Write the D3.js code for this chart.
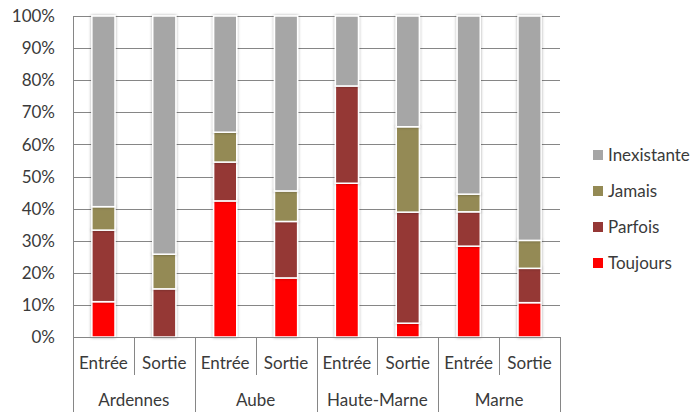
<!DOCTYPE html>
<html>
<head>
<meta charset="utf-8">
<script src="https://cdn.jsdelivr.net/npm/d3@7"></script>
<style>
  body { margin: 0; background: #fff; }
  svg text { font-family: Lato, "Open Sans", sans-serif; fill: #3a3a3a; }
</style>
</head>
<body>
<svg id="chart" width="698" height="412"></svg>
<script>
// data (percent of each bar)
const groups = ['Ardennes', 'Aube', 'Haute-Marne', 'Marne'];
const subCats = ['Entrée', 'Sortie'];
const seriesNames = ['Toujours', 'Parfois', 'Jamais', 'Inexistante'];
const toujours    = [11.0, 0.0, 42.4, 18.4, 47.9, 4.3, 28.3, 10.7];
const parfois     = [22.3, 15.0, 12.1, 17.6, 30.3, 34.6, 10.7, 10.7];
const jamais      = [7.3, 10.8, 9.3, 9.5, 0.0, 26.6, 5.5, 8.7];
const inexistante = [59.4, 74.2, 36.2, 54.5, 21.8, 34.5, 55.5, 69.9];
const yTicks = [0, 10, 20, 30, 40, 50, 60, 70, 80, 90, 100];
const colors = ['#ff0000', '#953735', '#948a54', '#a6a6a6'];

const svg = d3.select('#chart');
const plotL = 73, plotR = 560, plotT = 16, plotB = 337;
const fontSize = 17;

// build rows for stacking
const rows = [];
groups.forEach((g, gi) => {
  subCats.forEach((s, si) => {
    const i = gi * 2 + si;
    rows.push({
      key: g + '|' + s, group: g, sub: s,
      Toujours: toujours[i], Parfois: parfois[i], Jamais: jamais[i], Inexistante: inexistante[i]
    });
  });
});

const x = d3.scaleBand().domain(rows.map(d => d.key)).range([plotL, plotR]);
const y = d3.scaleLinear().domain([0, 100]).range([plotB, plotT]);
const barW = x.bandwidth() * 0.38;

// soft shadow around bars
const defs = svg.append('defs');
const filt = defs.append('filter').attr('id', 'shadow')
  .attr('x', '-50%').attr('y', '-10%').attr('width', '200%').attr('height', '120%');
filt.append('feDropShadow').attr('dx', 0).attr('dy', 0)
  .attr('stdDeviation', 1.6).attr('flood-color', '#000').attr('flood-opacity', 0.35);

// gridlines
svg.append('g').selectAll('line')
  .data(yTicks.filter(t => t > 0))
  .enter().append('line')
  .attr('x1', plotL).attr('x2', plotR)
  .attr('y1', d => Math.round(y(d)) + 0.5).attr('y2', d => Math.round(y(d)) + 0.5)
  .attr('stroke', '#868686').attr('stroke-width', 1);

// y labels
svg.append('g').selectAll('text')
  .data(yTicks)
  .enter().append('text')
  .attr('x', 55).attr('y', d => y(d))
  .attr('dy', '0.36em')
  .attr('text-anchor', 'end')
  .attr('font-size', fontSize)
  .text(d => d + '%');

// stacked bars
const stack = d3.stack().keys(seriesNames)(rows);
const barsG = svg.append('g');
stack.forEach((layer, li) => {
  barsG.append('g')
    .selectAll('rect')
    .data(layer.filter(d => d[1] - d[0] > 0))
    .enter().append('rect')
    .attr('x', d => x(d.data.key) + (x.bandwidth() - barW) / 2)
    .attr('y', d => y(d[1]))
    .attr('width', barW)
    .attr('height', d => y(d[0]) - y(d[1]))
    .attr('fill', colors[li])
    .attr('stroke', '#fff')
    .attr('stroke-width', 1.5)
    .attr('filter', 'url(#shadow)');
});

// axes lines
const axisG = svg.append('g').attr('stroke', '#868686').attr('stroke-width', 1);
axisG.append('line').attr('x1', plotL + 0.5).attr('x2', plotL + 0.5).attr('y1', plotT).attr('y2', plotB);
axisG.append('line').attr('x1', plotL).attr('x2', plotR).attr('y1', plotB + 0.5).attr('y2', plotB + 0.5);

// category boundaries: short for sub-categories, long for groups
const bounds = d3.range(rows.length + 1);
axisG.selectAll('line.b')
  .data(bounds)
  .enter().append('line')
  .attr('class', 'b')
  .attr('x1', i => Math.round(plotL + i * x.step()) + 0.5)
  .attr('x2', i => Math.round(plotL + i * x.step()) + 0.5)
  .attr('y1', plotB)
  .attr('y2', i => i % 2 === 0 ? 412 : 375);

// sub-category labels
svg.append('g').selectAll('text')
  .data(rows)
  .enter().append('text')
  .attr('x', d => x(d.key) + x.bandwidth() / 2)
  .attr('y', 363)
  .attr('dy', '0.36em')
  .attr('text-anchor', 'middle')
  .attr('font-size', fontSize)
  .text(d => d.sub);

// group labels
svg.append('g').selectAll('text')
  .data(groups)
  .enter().append('text')
  .attr('x', (g, gi) => x(rows[gi * 2].key) + x.step())
  .attr('y', 400)
  .attr('dy', '0.36em')
  .attr('text-anchor', 'middle')
  .attr('font-size', fontSize)
  .text(d => d);

// legend, top entry is the last series
const legendNames = seriesNames.slice().reverse();
const leg = svg.append('g').selectAll('g')
  .data(legendNames)
  .enter().append('g')
  .attr('transform', (d, i) => `translate(593, ${155 + i * 36})`);
leg.append('rect')
  .attr('x', 0).attr('y', -5).attr('width', 10).attr('height', 10)
  .attr('fill', d => colors[seriesNames.indexOf(d)]);
leg.append('text')
  .attr('x', 15).attr('y', 0).attr('dy', '0.36em')
  .attr('font-size', fontSize)
  .text(d => d);
</script>
</body>
</html>
